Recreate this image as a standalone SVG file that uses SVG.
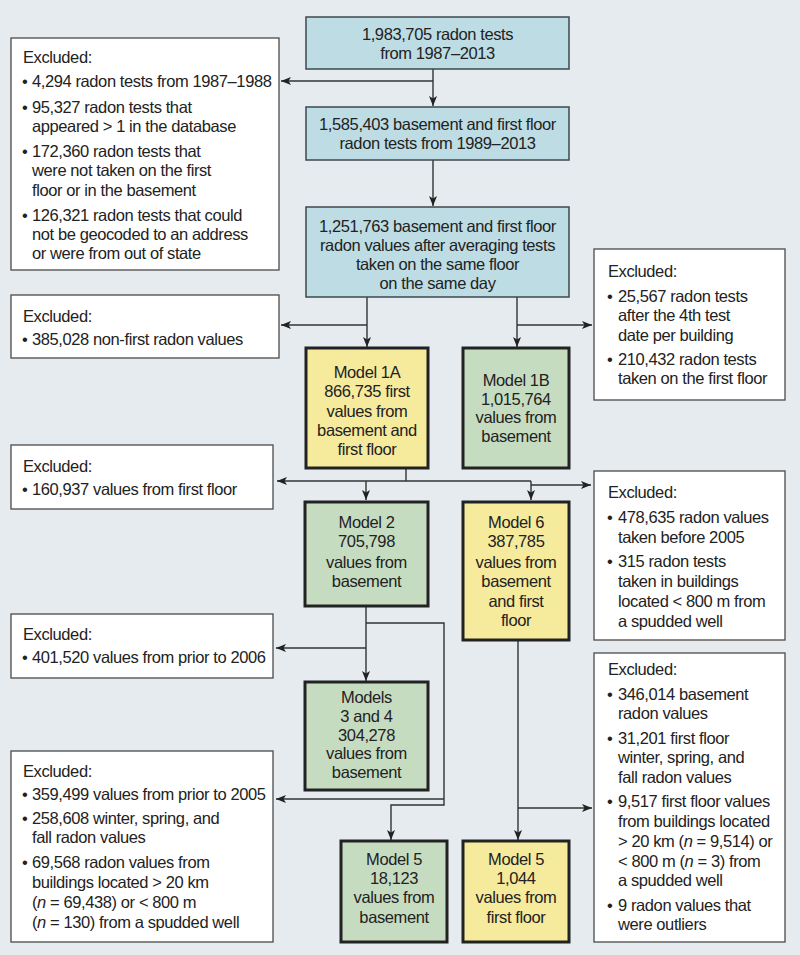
<svg xmlns="http://www.w3.org/2000/svg" width="800" height="955" viewBox="0 0 800 955">
<defs>
<marker id="ah" markerUnits="userSpaceOnUse" markerWidth="12" markerHeight="10" refX="10" refY="5" orient="auto">
<path d="M0,1 L10,5 L0,9 L2.5,5 Z" fill="#222"/>
</marker>
<style>
.bg{fill:#e5ebee}
.ex{fill:#fff;stroke:#4a4a4a;stroke-width:1.3}
.bl{fill:#bddce3;stroke:#3e4a4e;stroke-width:1.5}
.y{fill:#f6ea9c;stroke:#222;stroke-width:3}
.g{fill:#c6dcc1;stroke:#222;stroke-width:3}
text{font-family:"Liberation Sans Narrow","Liberation Sans",Arial,sans-serif;font-size:16.5px;letter-spacing:-0.4px;fill:#222}
.c{text-anchor:middle}
.cn path{fill:none;stroke:#333;stroke-width:1.4}
</style>
</defs>
<rect class="bg" x="0" y="0" width="800" height="955"/>

<g class="cn" id="connectors">
<path d="M433,69 V106" marker-end="url(#ah)"/>
<path d="M433,81 H281" marker-end="url(#ah)"/>
<path d="M433,160 V206" marker-end="url(#ah)"/>
<path d="M367,297 V347" marker-end="url(#ah)"/>
<path d="M517,297 V347" marker-end="url(#ah)"/>
<path d="M367,325 H281" marker-end="url(#ah)"/>
<path d="M517,325 H592" marker-end="url(#ah)"/>
<path d="M406,468 V481"/>
<path d="M531,481 H277" marker-end="url(#ah)"/>
<path d="M366,481 V500" marker-end="url(#ah)"/>
<path d="M531,481 V500" marker-end="url(#ah)"/>
<path d="M531,485 H591" marker-end="url(#ah)"/>
<path d="M366,606 V681" marker-end="url(#ah)"/>
<path d="M366,648 H276" marker-end="url(#ah)"/>
<path d="M366,623 H444 V799"/>
<path d="M444,799 H276" marker-end="url(#ah)"/>
<path d="M444,799 V805 H391 V840" marker-end="url(#ah)"/>
<path d="M518,640 V840" marker-end="url(#ah)"/>
<path d="M518,808 H592" marker-end="url(#ah)"/>
</g>

<g id="n_total">
<rect class="bl" x="306" y="17" width="263" height="52"/>
<text class="c" x="437.5" y="40">1,983,705 radon tests</text>
<text class="c" x="437.5" y="59">from 1987–2013</text>
</g>

<g id="n_1585">
<rect class="bl" x="306" y="107" width="263" height="53"/>
<text class="c" x="437.5" y="130">1,585,403 basement and first floor</text>
<text class="c" x="437.5" y="149">radon tests from 1989–2013</text>
</g>

<g id="n_1251">
<rect class="bl" x="306" y="207" width="263" height="90"/>
<text class="c" x="437.5" y="232">1,251,763 basement and first floor</text>
<text class="c" x="437.5" y="251">radon values after averaging tests</text>
<text class="c" x="437.5" y="270">taken on the same floor</text>
<text class="c" x="437.5" y="289">on the same day</text>
</g>

<g id="ex1">
<rect class="ex" x="11" y="38" width="268" height="232"/>
<text x="23" y="63">Excluded:</text>
<text x="22" y="87">•</text><text x="32" y="87">4,294 radon tests from 1987–1988</text>
<text x="22" y="113">•</text><text x="32" y="113">95,327 radon tests that</text>
<text x="32" y="132">appeared &gt; 1 in the database</text>
<text x="22" y="157">•</text><text x="32" y="157">172,360 radon tests that</text>
<text x="32" y="176">were not taken on the first</text>
<text x="32" y="196">floor or in the basement</text>
<text x="22" y="221">•</text><text x="32" y="221">126,321 radon tests that could</text>
<text x="32" y="240">not be geocoded to an address</text>
<text x="32" y="259">or were from out of state</text>
</g>

<g id="ex2">
<rect class="ex" x="11" y="295" width="268" height="63"/>
<text x="23" y="322">Excluded:</text>
<text x="22" y="345">•</text><text x="32" y="345">385,028 non-first radon values</text>
</g>

<g id="ex_r1">
<rect class="ex" x="594" y="249" width="191" height="151"/>
<text x="608" y="277">Excluded:</text>
<text x="607" y="302">•</text><text x="618" y="302">25,567 radon tests</text>
<text x="618" y="321">after the 4th test</text>
<text x="618" y="341">date per building</text>
<text x="607" y="365">•</text><text x="618" y="365">210,432 radon tests</text>
<text x="618" y="384">taken on the first floor</text>
</g>

<g id="m1a">
<rect class="y" x="306" y="348" width="122" height="120"/>
<text class="c" x="367" y="378">Model 1A</text>
<text class="c" x="367" y="397">866,735 first</text>
<text class="c" x="367" y="417">values from</text>
<text class="c" x="367" y="436">basement and</text>
<text class="c" x="367" y="455">first floor</text>
</g>

<g id="m1b">
<rect class="g" x="463" y="348" width="106" height="120"/>
<text class="c" x="516" y="386">Model 1B</text>
<text class="c" x="516" y="405">1,015,764</text>
<text class="c" x="516" y="423">values from</text>
<text class="c" x="516" y="442">basement</text>
</g>

<g id="ex3">
<rect class="ex" x="11" y="445" width="262" height="64"/>
<text x="23" y="472">Excluded:</text>
<text x="22" y="495">•</text><text x="32" y="495">160,937 values from first floor</text>
</g>

<g id="ex_r2">
<rect class="ex" x="594" y="471" width="191" height="169"/>
<text x="608" y="498">Excluded:</text>
<text x="607" y="523">•</text><text x="618" y="523">478,635 radon values</text>
<text x="618" y="543">taken before 2005</text>
<text x="607" y="567">•</text><text x="618" y="567">315 radon tests</text>
<text x="618" y="587">taken in buildings</text>
<text x="618" y="607">located &lt; 800 m from</text>
<text x="618" y="627">a spudded well</text>
</g>

<g id="m2">
<rect class="g" x="305" y="502" width="123" height="104"/>
<text class="c" x="366.5" y="528">Model 2</text>
<text class="c" x="366.5" y="547">705,798</text>
<text class="c" x="366.5" y="568">values from</text>
<text class="c" x="366.5" y="587">basement</text>
</g>

<g id="m6">
<rect class="y" x="463" y="502" width="106" height="138"/>
<text class="c" x="516" y="528">Model 6</text>
<text class="c" x="516" y="547">387,785</text>
<text class="c" x="516" y="568">values from</text>
<text class="c" x="516" y="587">basement</text>
<text class="c" x="516" y="607">and first</text>
<text class="c" x="516" y="626">floor</text>
</g>

<g id="ex4">
<rect class="ex" x="11" y="614" width="262" height="64"/>
<text x="23" y="640">Excluded:</text>
<text x="22" y="663">•</text><text x="32" y="663">401,520 values from prior to 2006</text>
</g>

<g id="m34">
<rect class="g" x="305" y="682" width="123" height="108"/>
<text class="c" x="366.5" y="703">Models</text>
<text class="c" x="366.5" y="722">3 and 4</text>
<text class="c" x="366.5" y="741">304,278</text>
<text class="c" x="366.5" y="759">values from</text>
<text class="c" x="366.5" y="778">basement</text>
</g>

<g id="ex_r3">
<rect class="ex" x="594" y="653" width="191" height="289"/>
<text x="608" y="675">Excluded:</text>
<text x="607" y="700">•</text><text x="618" y="700">346,014 basement</text>
<text x="618" y="719">radon values</text>
<text x="607" y="744">•</text><text x="618" y="744">31,201 first floor</text>
<text x="618" y="763">winter, spring, and</text>
<text x="618" y="783">fall radon values</text>
<text x="607" y="807">•</text><text x="618" y="807">9,517 first floor values</text>
<text x="618" y="827">from buildings located</text>
<text x="618" y="847">&gt; 20 km (<tspan font-style="italic">n</tspan> = 9,514) or</text>
<text x="618" y="867">&lt; 800 m (<tspan font-style="italic">n</tspan> = 3) from</text>
<text x="618" y="886">a spudded well</text>
<text x="607" y="911">•</text><text x="618" y="911">9 radon values that</text>
<text x="618" y="930">were outliers</text>
</g>

<g id="ex5">
<rect class="ex" x="11" y="751" width="262" height="191"/>
<text x="23" y="777">Excluded:</text>
<text x="22" y="800">•</text><text x="32" y="800">359,499 values from prior to 2005</text>
<text x="22" y="824">•</text><text x="32" y="824">258,608 winter, spring, and</text>
<text x="32" y="843">fall radon values</text>
<text x="22" y="868">•</text><text x="32" y="868">69,568 radon values from</text>
<text x="32" y="888">buildings located &gt; 20 km</text>
<text x="32" y="908">(<tspan font-style="italic">n</tspan> = 69,438) or &lt; 800 m</text>
<text x="32" y="928">(<tspan font-style="italic">n</tspan> = 130) from a spudded well</text>
</g>

<g id="m5b">
<rect class="g" x="341" y="841" width="106" height="101"/>
<text class="c" x="394" y="865">Model 5</text>
<text class="c" x="394" y="884">18,123</text>
<text class="c" x="394" y="903">values from</text>
<text class="c" x="394" y="923">basement</text>
</g>

<g id="m5f">
<rect class="y" x="463" y="841" width="106" height="101"/>
<text class="c" x="516" y="865">Model 5</text>
<text class="c" x="516" y="884">1,044</text>
<text class="c" x="516" y="903">values from</text>
<text class="c" x="516" y="923">first floor</text>
</g>
</svg>
